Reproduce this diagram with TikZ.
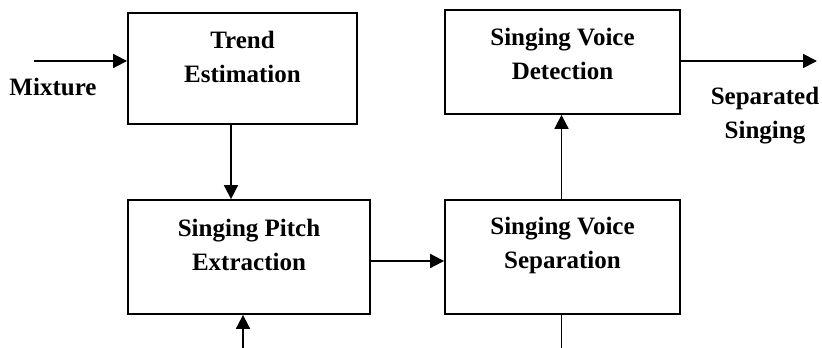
\documentclass[tikz,border=0pt]{standalone}
\usepackage{fontspec}
\setmainfont{Liberation Serif}
\usetikzlibrary{arrows.meta}
\begin{document}
\begin{tikzpicture}[x=1pt,y=-1pt,
  block/.style={draw,line width=1.8pt,inner sep=0pt},
  caption/.style={font=\fontsize{25}{34}\selectfont\bfseries,align=center,inner sep=0pt},
  flow/.style={line width=1.8pt,-{Triangle[length=14pt,width=14pt]}},
  wire/.style={line width=1.8pt}]
\useasboundingbox (0,0) rectangle (822,348);
% processing blocks
\node[block,minimum width=229pt,minimum height=111pt] (trend) at (242.5,68.5) {};
\node[block,minimum width=242pt,minimum height=114pt] (pitch) at (249,257) {};
\node[block,minimum width=235pt,minimum height=104pt] (detect) at (562.5,62) {};
\node[block,minimum width=235pt,minimum height=114pt] (sep) at (562.5,257) {};
% block captions
\node[caption] (trendtxt) at (242.5,57) {Trend\\Estimation};
\node[caption] (pitchtxt) at (249,245) {Singing Pitch\\Extraction};
\node[caption] (detecttxt) at (562.5,54) {Singing Voice\\Detection};
\node[caption] (septxt) at (562.5,245) {Singing Voice\\Separation};
% signal labels
\node[caption] (mix) at (53,87) {Mixture};
\node[caption] (out) at (765,116) {Separated\\Singing};
% free ends
\coordinate (inL) at (34,61);
\coordinate (outR) at (817,61);
\coordinate (inB) at (243,348);
\coordinate (outB) at (561.5,348);
% connections
\draw[flow] (inL) -- (inL -| trend.west);
\draw[flow] (trend.south -| 231,0) -- (pitch.north -| 231,0);
\draw[flow] (pitch.east |- 0,261) -- (sep.west |- 0,261);
\draw[flow] (sep.north -| outB) -- (detect.south -| outB);
\draw[flow] (detect.east |- outR) -- (outR);
\draw[flow] (inB) -- (inB |- pitch.south);
\draw[wire] (outB |- sep.south) -- (outB);
\end{tikzpicture}
\end{document}
